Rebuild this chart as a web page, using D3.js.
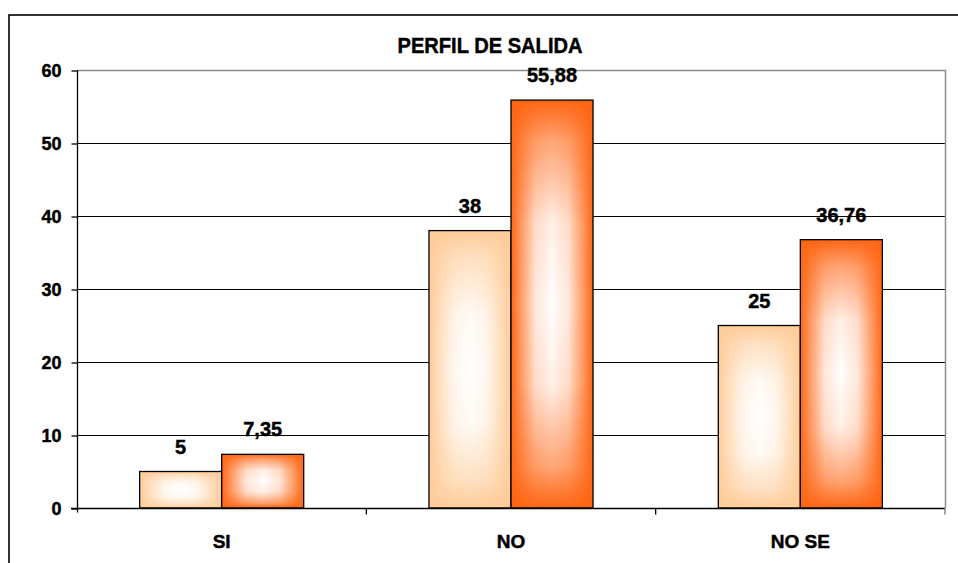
<!DOCTYPE html>
<html>
<head>
<meta charset="utf-8">
<script src="https://cdn.jsdelivr.net/npm/d3@7"></script>
<style>
  html, body { margin: 0; padding: 0; background: #fff; }
  svg { display: block; }
  text { font-family: "Liberation Sans", Arial, sans-serif; font-weight: bold; fill: #000; stroke: #000; stroke-width: 0.45px; }
</style>
</head>
<body>
<svg id="chart" width="958" height="563"></svg>
<script>
const title = "PERFIL DE SALIDA";
const categories = ["SI", "NO", "NO SE"];
const seriesNames = ["Serie 1", "Serie 2"];
const series1 = [5, 38, 25];
const series2 = [7.35, 55.88, 36.76];
const yTicks = [0, 10, 20, 30, 40, 50, 60];
const edgeColors = ["#FFCC99", "#FF6614"];

const svg = d3.select("#chart");
const W = 958, H = 563;
const plot = { left: 77, right: 945, top: 70, bottom: 508 };

// outer border (extends beyond right/bottom edges)
svg.append("rect")
  .attr("x", 9).attr("y", 15)
  .attr("width", W).attr("height", H)
  .attr("fill", "#fff").attr("stroke", "#000").attr("stroke-width", 1.6);

const defs = svg.append("defs");
// horizontal white gradient (opacity ramps to centre)
const hg = defs.append("linearGradient").attr("id", "hwhite")
  .attr("x1", 0).attr("y1", 0).attr("x2", 1).attr("y2", 0);
[[0, 0], [0.1, 0.3], [0.3, 0.85], [0.5, 1], [0.7, 0.85], [0.9, 0.3], [1, 0]].forEach(([o, a]) =>
  hg.append("stop").attr("offset", o).attr("stop-color", "#fff").attr("stop-opacity", a));
// vertical mask gradient
const vg = defs.append("linearGradient").attr("id", "vmaskgrad")
  .attr("x1", 0).attr("y1", 0).attr("x2", 0).attr("y2", 1);
[[0, "#000"], [0.1, "#6a6a6a"], [0.3, "#e6e6e6"], [0.5, "#fff"], [0.7, "#e6e6e6"], [0.9, "#6a6a6a"], [1, "#000"]].forEach(([o, c]) =>
  vg.append("stop").attr("offset", o).attr("stop-color", c));
defs.append("mask").attr("id", "vmask")
  .attr("maskContentUnits", "objectBoundingBox")
  .append("rect").attr("x", 0).attr("y", 0).attr("width", 1).attr("height", 1)
  .attr("fill", "url(#vmaskgrad)");

const y = d3.scaleLinear().domain([0, 60]).range([plot.bottom, plot.top]);
const x0 = d3.scaleBand().domain(categories).range([plot.left, plot.right])
  .paddingInner(0.433).paddingOuter(0.2165);
const x1 = d3.scaleBand().domain(seriesNames).range([0, x0.bandwidth()]);

// gridlines
svg.append("g").selectAll("line").data(yTicks.filter(t => t > 0 && t < 60)).join("line")
  .attr("x1", plot.left).attr("x2", plot.right)
  .attr("y1", d => y(d) + 0.5).attr("y2", d => y(d) + 0.5)
  .attr("stroke", "#000").attr("stroke-width", 1);
// plot area border (top, right) gray
svg.append("path")
  .attr("d", `M${plot.left},${y(60) + 0.5}H${plot.right + 0.5}V${plot.bottom}`)
  .attr("fill", "none").attr("stroke", "#8c8c8c").attr("stroke-width", 1.5);

// bars
const data = categories.map((c, i) => ({ cat: c, vals: [series1[i], series2[i]] }));
const groups = svg.append("g").selectAll("g").data(data).join("g")
  .attr("transform", d => `translate(${x0(d.cat)},0)`);
const bars = groups.selectAll("g").data(d => d.vals.map((v, j) => ({ v, j }))).join("g");
bars.append("rect")
  .attr("x", d => x1(seriesNames[d.j])).attr("width", x1.bandwidth())
  .attr("y", d => y(d.v)).attr("height", d => y(0) - y(d.v))
  .attr("fill", d => edgeColors[d.j]);
bars.append("rect")
  .attr("x", d => x1(seriesNames[d.j])).attr("width", x1.bandwidth())
  .attr("y", d => y(d.v)).attr("height", d => y(0) - y(d.v))
  .attr("fill", "url(#hwhite)").attr("mask", "url(#vmask)");
bars.append("rect")
  .attr("x", d => x1(seriesNames[d.j])).attr("width", x1.bandwidth())
  .attr("y", d => y(d.v)).attr("height", d => y(0) - y(d.v))
  .attr("fill", "none").attr("stroke", "#000").attr("stroke-width", 1.3);
bars.append("text")
  .attr("x", d => x1(seriesNames[d.j]) + x1.bandwidth() / 2)
  .attr("y", d => y(d.v) - 18)
  .attr("text-anchor", "middle").attr("font-size", 20)
  .text(d => String(d.v).replace(".", ","));

// y axis
const yAxis = d3.axisLeft(y).tickValues(yTicks).tickSize(6).tickPadding(10);
const ya = svg.append("g").attr("transform", `translate(${plot.left + 0.5},0.5)`).call(yAxis);
ya.select(".domain").attr("d", `M0,${plot.top}V${plot.bottom + 4}`).attr("stroke", "#000").attr("stroke-width", 1.3);
ya.selectAll(".tick line").attr("stroke", "#000").attr("stroke-width", 1.3);
ya.selectAll(".tick text").attr("font-size", 18).attr("font-family", "Liberation Sans, Arial, sans-serif")
  .attr("font-weight", "bold").attr("dy", "0.36em").attr("fill", "#000");

// x axis
const xa = svg.append("g").attr("transform", `translate(0,${plot.bottom + 0.5})`);
xa.append("line").attr("x1", plot.left - 6).attr("x2", plot.right)
  .attr("stroke", "#000").attr("stroke-width", 1.3);
const seps = [plot.left].concat(categories.slice(1).map(c => x0(c) - x0.step() * 0.433 / 2 ), [plot.right]);
xa.selectAll("line.sep").data(seps.slice(1)).join("line").attr("class", "sep")
  .attr("x1", d => d).attr("x2", d => d).attr("y1", 0).attr("y2", 6)
  .attr("stroke", (d, i) => i === seps.length - 2 ? "#777" : "#000").attr("stroke-width", 1.3);
xa.selectAll("text").data(categories).join("text")
  .attr("x", d => x0(d) + x0.bandwidth() / 2).attr("y", 39)
  .attr("text-anchor", "middle").attr("font-size", 19)
  .text(d => d);

// title
svg.append("text").attr("x", 490).attr("y", 53)
  .attr("text-anchor", "middle").attr("font-size", 22)
  .attr("textLength", 185).attr("lengthAdjust", "spacingAndGlyphs")
  .text(title);
</script>
</body>
</html>
